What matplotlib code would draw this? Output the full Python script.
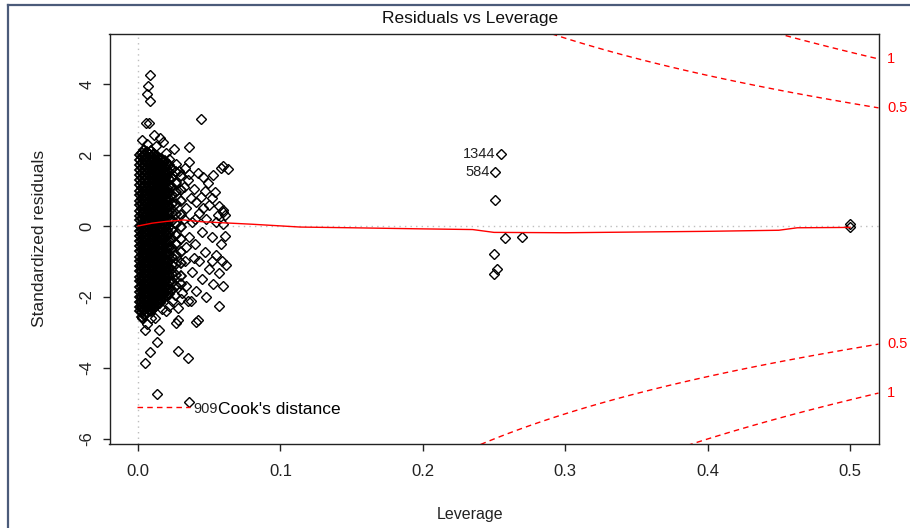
import matplotlib
matplotlib.use("Agg")
import matplotlib.pyplot as plt
from matplotlib.lines import Line2D
import numpy as np

plt.rcParams['font.family'] = ['Liberation Sans', 'DejaVu Sans']
plt.rcParams['axes.unicode_minus'] = False

# dense core of the cloud: one list of residuals per leverage column
core_lev = [0.0015, 0.004, 0.0065, 0.009, 0.0115, 0.014, 0.0165, 0.019, 0.0215, 0.024, 0.027, 0.030,
            0.00275, 0.00525, 0.00775, 0.01025, 0.01275, 0.01525, 0.01775, 0.02025]
r_c1 = [2.01, 1.86, 1.73, 1.57, 1.44, 1.29, 1.16, 1.0, 0.87, 0.71, 0.58, 0.43, 0.29, 0.16, 0.01, -0.13,
        -0.28, -0.42, -0.57, -0.7, -0.86, -0.99, -1.14, -1.28, -1.43, -1.56, -1.72, -1.85, -2.0, -2.13, -2.27, -2.4]
r_c2 = [2.14, 1.98, 1.84, 1.69, 1.55, 1.4, 1.26, 1.11, 0.96, 0.83, 0.67, 0.53, 0.38, 0.24, 0.09, -0.05, -0.2,
        -0.34, -0.49, -0.64, -0.78, -0.93, -1.07, -1.21, -1.36, -1.5, -1.65, -1.79, -1.94, -2.08, -2.23, -2.37, -2.51]
r_c3 = [2.08, 1.93, 1.79, 1.63, 1.5, 1.34, 1.2, 1.05, 0.9, 0.76, 0.61, 0.46, 0.32, 0.18, 0.03, -0.11, -0.26,
        -0.4, -0.55, -0.69, -0.84, -0.98, -1.13, -1.27, -1.42, -1.57, -1.71, -1.86, -2.0, -2.15, -2.3, -2.44]
r_c4 = [2.1, 1.95, 1.81, 1.66, 1.52, 1.37, 1.22, 1.08, 0.93, 0.79, 0.64, 0.5, 0.35, 0.2, 0.06, -0.08, -0.23,
        -0.37, -0.52, -0.66, -0.81, -0.95, -1.1, -1.24, -1.39, -1.53, -1.68, -1.82, -1.97, -2.11, -2.26, -2.39]
r_c5 = [2.04, 1.88, 1.74, 1.59, 1.45, 1.3, 1.15, 1.01, 0.86, 0.72, 0.57, 0.42, 0.28, 0.13, -0.01, -0.16, -0.3,
        -0.45, -0.6, -0.74, -0.89, -1.03, -1.18, -1.32, -1.47, -1.61, -1.76, -1.9, -2.05, -2.18, -2.3]
r_c6 = [1.95, 1.8, 1.66, 1.51, 1.37, 1.22, 1.07, 0.93, 0.78, 0.64, 0.49, 0.35, 0.2, 0.05, -0.09, -0.24, -0.38,
        -0.53, -0.67, -0.82, -0.96, -1.11, -1.26, -1.4, -1.55, -1.69, -1.84, -1.98, -2.12, -2.21]
r_c7 = [1.9, 1.74, 1.6, 1.44, 1.3, 1.14, 1.0, 0.85, 0.7, 0.56, 0.41, 0.26, 0.12, -0.03, -0.17, -0.32, -0.47,
        -0.61, -0.76, -0.9, -1.05, -1.2, -1.34, -1.49, -1.63, -1.78, -1.93, -2.08]
r_c8 = [1.84, 1.67, 1.52, 1.36, 1.21, 1.05, 0.9, 0.74, 0.59, 0.43, 0.28, 0.12, -0.03, -0.19, -0.34, -0.5,
        -0.65, -0.81, -0.96, -1.12, -1.27, -1.43, -1.58, -1.74, -1.89, -2.01]
r_c9 = [1.72, 1.52, 1.33, 1.13, 0.94, 0.75, 0.55, 0.36, 0.16, -0.03, -0.23, -0.42, -0.61, -0.81, -1.0, -1.2,
        -1.39, -1.58, -1.78, -1.91]
r_c10 = [1.6, 1.36, 1.1, 0.87, 0.62, 0.37, 0.13, -0.12, -0.37, -0.61, -0.86, -1.1, -1.35, -1.6, -1.8]
r_c11 = [1.52, 1.2, 0.95, 0.63, 0.35, 0.07, -0.25, -0.5, -0.82, -1.08, -1.37, -1.68]
r_c12 = [1.41, 1.02, 0.7, 0.31, -0.04, -0.38, -0.74, -1.05, -1.42, -1.63]
r_d1 = [2.07, 1.93, 1.78, 1.64, 1.49, 1.35, 1.2, 1.06, 0.91, 0.77, 0.62, 0.48, 0.33, 0.19, 0.04, -0.1, -0.25,
        -0.39, -0.54, -0.68, -0.83, -0.97, -1.12, -1.26, -1.41, -1.55, -1.7, -1.84, -1.99, -2.13, -2.28, -2.42, -2.55]
r_d2 = [2.02, 1.88, 1.73, 1.59, 1.44, 1.29, 1.15, 1.0, 0.86, 0.71, 0.57, 0.42, 0.27, 0.13, -0.02, -0.16, -0.31,
        -0.45, -0.6, -0.75, -0.89, -1.04, -1.18, -1.33, -1.47, -1.62, -1.77, -1.91, -2.06, -2.2, -2.35, -2.47]
r_d3 = [2.03, 1.87, 1.72, 1.58, 1.43, 1.28, 1.14, 0.99, 0.85, 0.7, 0.55, 0.41, 0.26, 0.12, -0.03, -0.18, -0.32,
        -0.47, -0.61, -0.76, -0.91, -1.05, -1.2, -1.34, -1.49, -1.64, -1.78, -1.93, -2.07, -2.22, -2.36]
r_d4 = [1.99, 1.84, 1.7, 1.55, 1.41, 1.26, 1.11, 0.97, 0.82, 0.68, 0.53, 0.38, 0.24, 0.09, -0.05, -0.2, -0.35,
        -0.49, -0.64, -0.78, -0.93, -1.08, -1.22, -1.37, -1.51, -1.66, -1.81, -1.95, -2.1, -2.24, -2.34]
r_d5 = [1.98, 1.83, 1.69, 1.54, 1.39, 1.25, 1.1, 0.96, 0.81, 0.66, 0.52, 0.37, 0.23, 0.08, -0.07, -0.21, -0.36,
        -0.5, -0.65, -0.8, -0.94, -1.09, -1.23, -1.38, -1.53, -1.67, -1.82, -1.96, -2.11, -2.25]
r_d6 = [1.87, 1.72, 1.58, 1.43, 1.29, 1.14, 0.99, 0.85, 0.7, 0.56, 0.41, 0.26, 0.12, -0.03, -0.17, -0.32, -0.47,
        -0.61, -0.76, -0.9, -1.05, -1.2, -1.34, -1.49, -1.63, -1.78, -1.93, -2.07, -2.16]
r_d7 = [1.81, 1.64, 1.49, 1.33, 1.18, 1.02, 0.87, 0.71, 0.56, 0.4, 0.25, 0.09, -0.06, -0.22, -0.37, -0.53, -0.68,
        -0.84, -0.99, -1.15, -1.3, -1.46, -1.61, -1.77, -1.92, -2.04]
r_d8 = [1.76, 1.58, 1.42, 1.24, 1.08, 0.9, 0.73, 0.57, 0.4, 0.23, 0.06, -0.11, -0.28, -0.45, -0.62, -0.79, -0.96,
        -1.13, -1.3, -1.47, -1.64, -1.81, -1.95]
core_res = [r_c1, r_c2, r_c3, r_c4, r_c5, r_c6, r_c7, r_c8, r_c9, r_c10, r_c11, r_c12,
            r_d1, r_d2, r_d3, r_d4, r_d5, r_d6, r_d7, r_d8]

# scattered points around the core
out_lev = [0.0084, 0.007, 0.0063, 0.0084, 0.0056, 0.0077, 0.044,
           0.003, 0.011, 0.0155, 0.0175, 0.006, 0.013, 0.025, 0.036, 0.02, 0.022,
           0.036, 0.036, 0.046, 0.049, 0.058, 0.060, 0.063, 0.054, 0.060, 0.0595, 0.061, 0.057, 0.052,
           0.044, 0.047, 0.039, 0.041, 0.050, 0.043, 0.048, 0.055, 0.060, 0.038, 0.045, 0.052, 0.058,
           0.061, 0.040, 0.047, 0.055, 0.059, 0.043, 0.050, 0.057, 0.062, 0.038, 0.045, 0.053, 0.060,
           0.041, 0.048, 0.057, 0.034, 0.037, 0.028, 0.041, 0.042, 0.027, 0.028, 0.035, 0.031, 0.033,
           0.034, 0.032, 0.033, 0.037, 0.036, 0.034, 0.039, 0.032, 0.035, 0.042, 0.040, 0.053, 0.056,
           0.052, 0.046, 0.030, 0.026, 0.024, 0.027, 0.029,
           0.003, 0.006, 0.005, 0.0147, 0.0133, 0.0084, 0.005, 0.028, 0.035, 0.0133, 0.036,
           0.012, 0.02, 0.009, 0.017, 0.022,
           0.255, 0.251, 0.251, 0.258, 0.270, 0.250, 0.252, 0.250, 0.5, 0.5]
out_res = [4.25, 3.94, 3.72, 3.52, 2.9, 2.9, 3.02,
           2.42, 2.56, 2.48, 2.38, 2.3, 2.25, 2.17, 2.22, 2.05, 1.9,
           1.8, 1.46, 1.38, 1.2, 1.62, 1.70, 1.6, 0.95, 0.4, 0.45, 0.32, 0.55, 0.8,
           0.82, 0.98, 1.05, 0.68, 0.6, 0.36, 0.2, 0.1, 0.05, 0.12, -0.18, -0.3, -0.5,
           -0.28, -0.5, -0.72, -0.82, -1.0, -1.0, -1.2, -1.32, -1.1, -1.3, -1.5, -1.62, -1.7,
           -1.82, -2.0, -2.25, -1.7, -2.1, -2.3, -2.7, -2.65, -2.72, -2.65, -2.12, -1.9, -1.0,
           0.5, 1.1, 1.62, 0.8, -0.3, -0.6, -0.9, 0.2, 1.3, 1.5, 0.2, 1.45, 0.3,
           -1.0, 0.5, -2.05, -1.95, -2.1, 1.75, 1.55,
           -2.6, -2.75, -2.93, -2.93, -3.27, -3.55, -3.86, -3.52, -3.72, -4.73, -4.96,
           -2.6, -2.4, -2.6, -2.35, -2.25,
           2.03, 1.52, 0.73, -0.34, -0.31, -0.79, -1.21, -1.35, 0.06, -0.02]

# labelled observations
id_lev = [0.255, 0.251, 0.036]
id_res = [2.03, 1.52, -4.96]
id_txt = ["1344", "584", "909"]

# red smoother
smooth_lev = [0.0, 0.01, 0.02, 0.032, 0.045, 0.065, 0.08, 0.114, 0.15, 0.198, 0.235, 0.25, 0.3, 0.4,
              0.45, 0.463, 0.5]
smooth_res = [0.0, 0.08, 0.13, 0.17, 0.12, 0.08, 0.05, -0.03, -0.05, -0.08, -0.1, -0.18, -0.19, -0.15,
              -0.12, -0.05, -0.04]

# Cook's distance contours
n_params = 24
cook_levels = [0.5, 1]

fig = plt.figure(figsize=(9.1, 5.28), dpi=100)
ax = fig.add_axes([109.5 / 910, 84.4 / 528, 769 / 910, 410 / 528])

ax.axhline(0, color="#bebebe", lw=1, ls=(0, (1, 3)), zorder=1)
ax.axvline(0, color="#bebebe", lw=1, ls=(0, (1, 3)), zorder=1)

for h, rs in zip(core_lev, core_res):
    ax.plot([h] * len(rs), rs, ls="none", marker="D", ms=5, mfc="none", mec="black", mew=1.3)
ax.plot(out_lev, out_res, ls="none", marker="D", ms=4.8, mfc="none", mec="black", mew=1.0)

ax.plot(smooth_lev, smooth_res, color="red", lw=1, zorder=3)

xlim = (-0.02, 0.52)
ylim = (-6.13, 5.42)
hh = np.linspace(0.001, xlim[1], 101)
for lv in cook_levels:
    cl = np.sqrt(lv * n_params * (1 - hh) / hh)
    ax.plot(hh, cl, color="red", lw=1, dashes=(4, 3))
    ax.plot(hh, -cl, color="red", lw=1, dashes=(4, 3))
    yl = np.sqrt(lv * n_params * (1 - xlim[1]) / xlim[1])
    for s in (1, -1):
        ax.text(xlim[1] + 0.006, s * yl, str(lv), color="red", fontsize=10.5, va="center", ha="left",
                clip_on=False)

for h, r, t in zip(id_lev, id_res, id_txt):
    if h < 0.25:
        ax.annotate(t, (h, r), xytext=(3, -5), textcoords="offset points", ha="left", va="center",
                    fontsize=10.5, color="#222222")
    else:
        ax.annotate(t, (h, r), xytext=(-4, 0), textcoords="offset points", ha="right", va="center",
                    fontsize=10.5, color="#222222")

ax.set_xlim(xlim)
ax.set_ylim(ylim)
ax.set_xticks([0.0, 0.1, 0.2, 0.3, 0.4, 0.5])
ax.set_xticklabels(["0.0", "0.1", "0.2", "0.3", "0.4", "0.5"])
ax.set_yticks([-6, -4, -2, 0, 2, 4])
ax.tick_params(axis="both", length=5, width=1, labelsize=12, colors="#222222")
ax.tick_params(axis="x", pad=10)
ax.tick_params(axis="y", pad=6)
for lab in ax.get_yticklabels():
    lab.set_rotation(90)
    lab.set_va("center")
for sp in ax.spines.values():
    sp.set_linewidth(1)
    sp.set_color("#222222")

ax.set_ylabel("Standardized residuals", fontsize=12.5, labelpad=23, color="#222222")
fig.text(470 / 910, 1 - 515 / 528, "Leverage", fontsize=11.5, ha="center", va="center", color="#222222")
fig.text(470 / 910, 1 - 18 / 528, "Residuals vs Leverage", fontsize=12.5, ha="center", va="center",
         color="#111111")

handle = Line2D([], [], color="red", lw=1, dashes=(4, 3))
ax.legend([handle], ["Cook's distance"], loc="center left",
          bbox_to_anchor=(0.0358, 0.0844), borderaxespad=0, borderpad=0,
          handlelength=3.05, handletextpad=1.6, frameon=False, fontsize=12.5)

# screenshot frame
fig.add_artist(Line2D([8 / 910, 1], [1 - 5 / 528, 1 - 5 / 528], color="#4b5b7a", lw=1.6))
fig.add_artist(Line2D([8 / 910, 8 / 910], [0, 1 - 5 / 528], color="#4b5b7a", lw=1.6))

fig.savefig("out.png", dpi=100)
